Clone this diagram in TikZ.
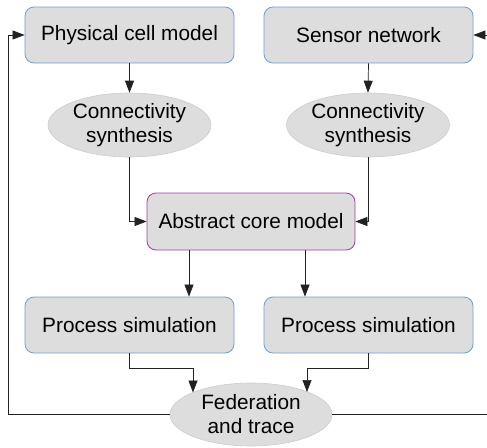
\documentclass[tikz,border=0pt]{standalone}
\usepackage{fontspec}
\setmainfont{Liberation Sans}
\usetikzlibrary{arrows.meta,shapes.geometric}
\definecolor{boxfill}{HTML}{DDDDDD}
\definecolor{boxblue}{HTML}{729FCF}
\definecolor{boxpurple}{HTML}{A33E9F}
\definecolor{ellline}{HTML}{CCCCCC}
\definecolor{conn}{HTML}{222222}
\tikzset{
  x=1pt,y=-1pt,
  every node/.style={font=\fontsize{20.8}{24}\selectfont, text=black, align=center, inner sep=0pt},
  procbox/.style={draw=boxblue, line width=0.8pt, fill=boxfill, rounded corners=9pt,
    minimum width=209pt, minimum height=56pt},
  corebox/.style={procbox, draw=boxpurple},
  synth/.style={ellipse, draw=ellline, line width=0.6pt, fill=boxfill,
    minimum width=163pt, minimum height=64pt},
  link/.style={draw=conn, line width=0.7pt},
  arr/.style={link, -{Triangle[length=12pt,width=9pt]}}
}
\begin{document}
\begin{tikzpicture}
\useasboundingbox (0,0) rectangle (487,447);
\node[procbox] (phys) at (129.5,35) {Physical cell model};
\node[procbox] (sens) at (368.5,35) {Sensor network};
\node[synth] (con1) at (129.5,125) {Connectivity\\synthesis};
\node[synth] (con2) at (368,125) {Connectivity\\synthesis};
\node[corebox, minimum width=208pt, minimum height=57pt] (abs) at (251,221.5) {Abstract core model};
\node[procbox] (proc1) at (129.5,325) {Process simulation};
\node[procbox] (proc2) at (368.5,325) {Process simulation};
\node[synth, minimum width=162pt, minimum height=63pt] (fed) at (251,414.5) {Federation\\and trace};

\draw[arr] (phys.south) -- (con1.north);
\draw[arr] (sens.south) -- (con2.north);
\draw[arr] (con1.south) |- (abs.west);
\draw[arr] (con2.south) |- (abs.east);

\coordinate (a1) at ([xshift=-62pt]abs.south);
\coordinate (a2) at ([xshift=54pt]abs.south);
\draw[arr] (a1) -- (a1 |- proc1.north);
\draw[arr] (a2) -- (a2 |- proc2.north);

\coordinate (m1) at ([yshift=-15pt]proc1.south);
\coordinate (m2) at ([yshift=-15pt]proc2.south);
\coordinate (f1) at ([xshift=-58pt,yshift=22pt]fed.center);
\coordinate (f2) at ([xshift=56pt,yshift=22.5pt]fed.center);
\draw[arr] (proc1.south) -- (m1) -| (f1);
\draw[arr] (proc2.south) -- (m2) -| (f2);

\coordinate (lx) at (8,35);
\coordinate (rx) at (492,35);
\draw[arr] (fed.west) -| (lx) -- (phys.west);
\draw[arr] (fed.east) -| (rx) -- (sens.east);
\end{tikzpicture}
\end{document}
